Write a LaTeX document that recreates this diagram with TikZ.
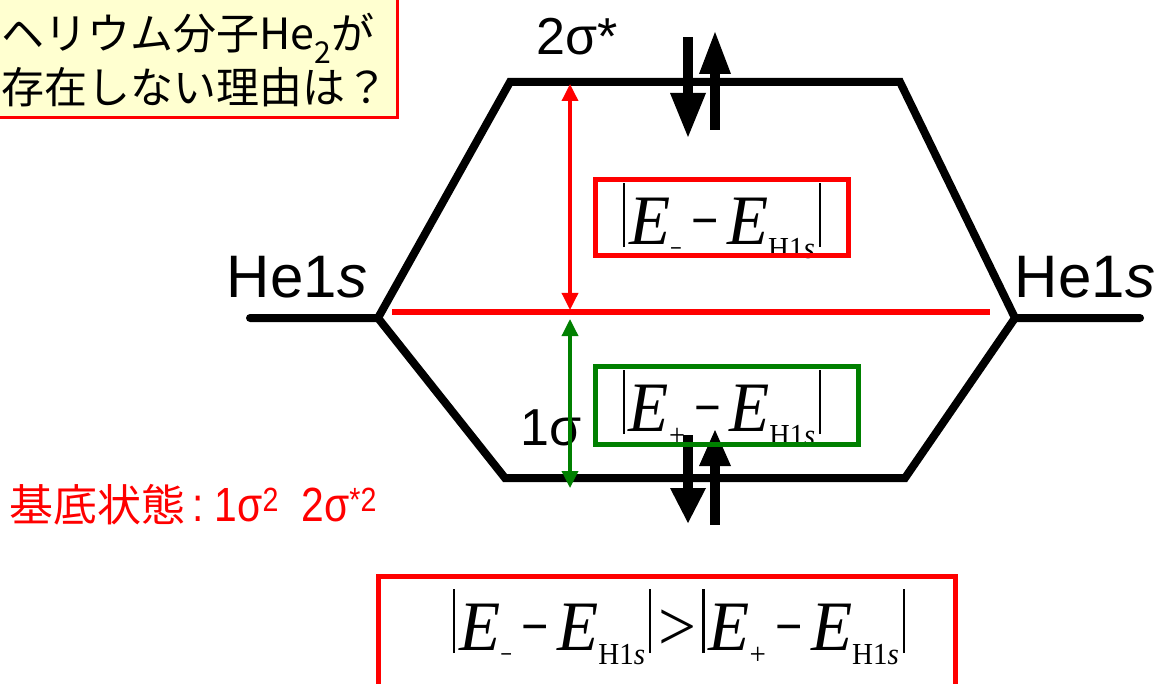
\documentclass[tikz,border=0pt]{standalone}
\usepackage{fontspec}
\usepackage{graphicx}
\setmainfont{Liberation Serif}
\setsansfont{Liberation Sans}
\newfontfamily\cjk{Noto Sans CJK JP}
\usetikzlibrary{arrows.meta}
\definecolor{boxyellow}{RGB}{255,255,208}
\definecolor{mygreen}{RGB}{0,128,0}
\newcommand{\vb}{\rule[-0.04em]{0.035em}{0.9em}}
\newcommand{\subs}[1]{\raisebox{-0.2em}{\fontsize{31}{33}\selectfont #1}}
\newcommand{\mns}{\scalebox{0.72}[1]{−}}
\newcommand{\Eminus}{\vb\kern4pt\textit{E}\subs{\mns}\kern10pt\mns\kern9pt\textit{E}\subs{H1\textit{s}}\kern4pt\vb}
\newcommand{\Eplus}{\vb\kern4pt\textit{E}\subs{+}\kern10pt\mns\kern9pt\textit{E}\subs{H1\textit{s}}\kern4pt\vb}
\tikzset{
  mo/.style={line width=8pt, line join=miter, line cap=round},
  lbl/.style={inner sep=0pt, font=\sffamily\fontsize{52}{56}\selectfont},
  formula/.style={inner sep=0pt, font=\fontsize{72}{78}\selectfont},
  electron/.style={fill=black},
  gaparrow/.style={line width=3.5pt, {Triangle[length=17pt,width=16pt]}-{Triangle[length=17pt,width=16pt]}},
  framebox/.style={line width=5pt},
}
\begin{document}
\begin{tikzpicture}[x=1pt,y=-1pt]
\useasboundingbox (0,0) rectangle (1158,684);
% title box
\draw[red, line width=3pt, fill=boxyellow] (-10,-10) rectangle (397,118);
\node[anchor=base west, inner sep=0pt, font=\cjk\fontsize{43}{48}\selectfont] (t1) at (1,50) {ヘリウム分子He\textsubscript{2}が};
\node[anchor=base west, inner sep=0pt, font=\cjk\fontsize{43}{48}\selectfont] (t2) at (1,104) {存在しない理由は？};
% MO corner coordinates
\coordinate (L) at (378,318);
\coordinate (R) at (1015,318);
\coordinate (LL) at (250,318);
\coordinate (RR) at (1140,318);
\coordinate (AT) at (510,82);
\coordinate (BT) at (900,82);
\coordinate (AB) at (505,478);
\coordinate (BB) at (905,478);
\draw[mo] (LL) -- (L) -- (AT) -- (BT) -- (R) -- (RR);
\draw[mo] (L) -- (AB) -- (BB) -- (R);
% labels
\node[lbl, font=\sffamily\fontsize{60}{64}\selectfont] (h1) at (297,277) {He1\textit{s}};
\node[lbl, font=\sffamily\fontsize{60}{64}\selectfont] (h2) at (1085,277) {He1\textit{s}};
\node[lbl] (s2) at (577,37) {2σ*};
\node[lbl] (s1) at (551,428) {1σ};
% electrons (top)
\fill[electron] (683,37) rectangle (693,95);
\fill[electron] (670,93) -- (706,93) -- (688,137) -- cycle;
\fill[electron] (710,72) rectangle (720,130);
\fill[electron] (699,74) -- (731,74) -- (715,32) -- cycle;
% electrons (bottom)
\fill[electron] (683,435) rectangle (693,490);
\fill[electron] (670,488) -- (706,488) -- (688,523) -- cycle;
\fill[electron] (710,463) rectangle (720,525);
\fill[electron] (699,466) -- (731,466) -- (715,430) -- cycle;
% reference line and gap arrows
\coordinate (rl1) at (392,312);
\coordinate (rl2) at (990,312);
\draw[red, line width=5pt] (rl1) -- (rl2);
\coordinate (ra1) at (570,84);
\coordinate (ra2) at (570,310);
\draw[gaparrow, red] (ra1) -- (ra2);
\coordinate (ga1) at (570,319);
\coordinate (ga2) at (570,488);
\draw[gaparrow, mygreen] (ga1) -- (ga2);
% formula boxes
\node[formula] (f1) at (722,221) {\resizebox{198pt}{61pt}{\Eminus}};
\draw[framebox, red] (595,180) rectangle (848,256);
\node[formula] (f2) at (722,408) {\resizebox{198pt}{61pt}{\Eplus}};
\draw[framebox, mygreen] (595,366) rectangle (858,444);
% ground state
\node[anchor=base west, inner sep=0pt, text=red] (gs) at (9,521)
  {{\cjk\fontsize{44}{48}\selectfont 基底状態}\scalebox{0.85}[1]{\sffamily\fontsize{48}{52}\selectfont\,:\ 1σ\textsuperscript{2}\ \ 2σ\textsuperscript{*2}}};
% bottom inequality
\node[formula] (f3) at (679,627) {\resizebox{452pt}{61pt}{\Eminus\kern8pt>\kern6pt\Eplus}};
\draw[framebox, red] (378,576) rectangle (955,700);
\end{tikzpicture}
\end{document}
